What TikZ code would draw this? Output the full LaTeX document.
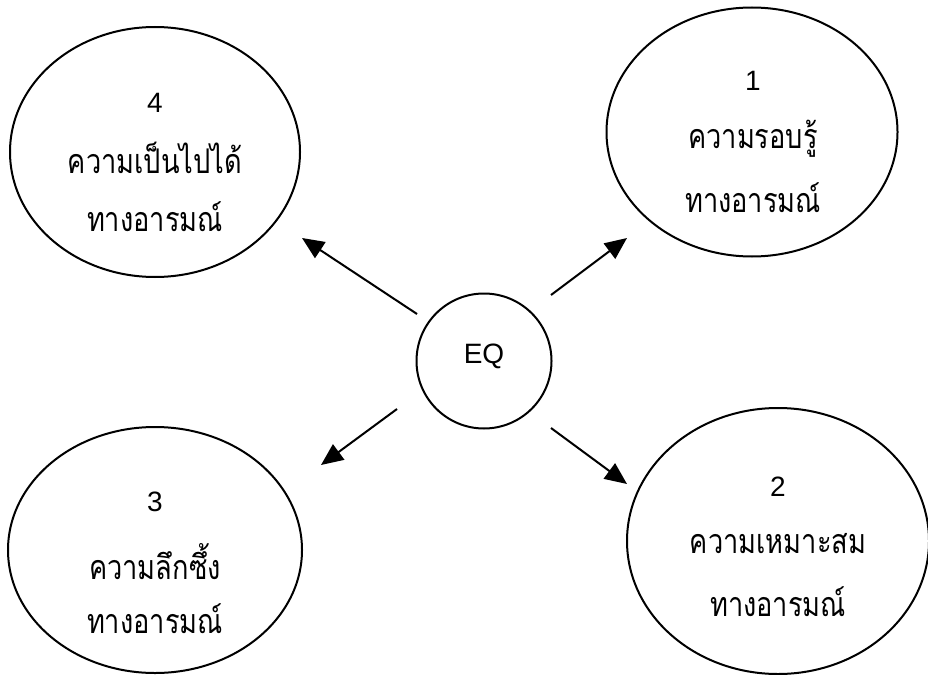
\documentclass[tikz,border=0pt]{standalone}
\usepackage{fontspec}
\setmainfont{Liberation Sans}
\newfontfamily\thaifont[Script=Thai,FakeStretch=0.8]{Loma}
\usetikzlibrary{arrows.meta,shapes.geometric}
\tikzset{
  bubble/.style={draw, line width=2pt, ellipse, inner sep=0pt},
  num/.style={font=\fontsize{28}{32}\selectfont},
  thai/.style={font=\thaifont\fontsize{34}{40}\selectfont},
  link/.style={line width=2pt, -{Triangle[length=22pt,width=19pt]}}
}
\begin{document}
\begin{tikzpicture}[x=1pt,y=-1pt]
\useasboundingbox (0,0) rectangle (928,674);
% ellipses
\node[bubble, minimum width=290pt, minimum height=250pt] (e4) at (155,152) {};
\node[bubble, minimum width=291pt, minimum height=249pt] (e1) at (752,132) {};
\node[bubble, minimum width=294pt, minimum height=246pt] (e3) at (155,550) {};
\node[bubble, minimum width=302pt, minimum height=266pt] (e2) at (778,541) {};
\node[draw, line width=2pt, circle, minimum size=135pt, inner sep=0pt] (eq) at (484,361) {};
\node[num] (eqt) at (484,356) {EQ};
% texts
\node[num] (n4) at (155,103) {4};
\node[thai] (a4) at (155,158) {ความเป็นไปได้};
\node[thai] (b4) at (155,217) {ทางอารมณ์};
\node[num] (n1) at (753,81) {1};
\node[thai] (a1) at (753,139) {ความรอบรู้};
\node[thai] (b1) at (753,198) {ทางอารมณ์};
\node[num] (n3) at (155,502) {3};
\node[thai] (a3) at (155,562) {ความลึกซึ้ง};
\node[thai] (b3) at (155,619) {ทางอารมณ์};
\node[num] (n2) at (778,487) {2};
\node[thai] (a2) at (778,544) {ความเหมาะสม};
\node[thai] (b2) at (778,602) {ทางอารมณ์};
% arrow ends
\coordinate (s4) at (417,314); \coordinate (t4) at (302,238);
\coordinate (s1) at (551,295); \coordinate (t1) at (627,238);
\coordinate (s3) at (397,409); \coordinate (t3) at (321,465);
\coordinate (s2) at (551,428); \coordinate (t2) at (627,484);
\draw[link] (s4) -- (t4);
\draw[link] (s1) -- (t1);
\draw[link] (s3) -- (t3);
\draw[link] (s2) -- (t2);
\end{tikzpicture}
\end{document}
